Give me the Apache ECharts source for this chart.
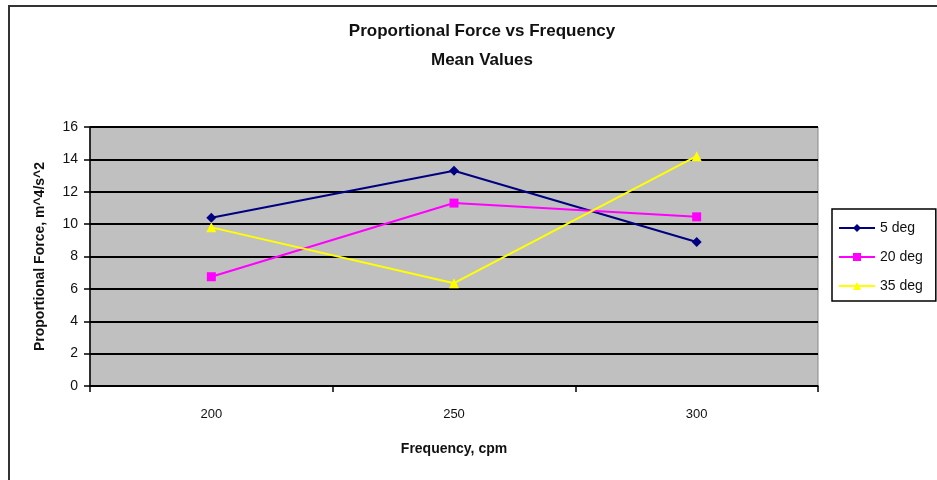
<!DOCTYPE html>
<html>
<head>
<meta charset="utf-8">
<script src="https://cdn.jsdelivr.net/npm/echarts@6/dist/echarts.min.js"></script>
<style>
html,body{margin:0;padding:0;background:#fff;}
#chart{width:937px;height:480px;}
</style>
</head>
<body>
<div id="chart"></div>
<script>
var categories = ['200', '250', '300'];
var deg5 = [10.4, 13.3, 8.9];
var deg20 = [6.75, 11.3, 10.45];
var deg35 = [9.8, 6.35, 14.2];
var seriesNames = ['5 deg', '20 deg', '35 deg'];

var FONT = '"Liberation Sans", Arial, sans-serif';
var chart = echarts.init(document.getElementById('chart'));
chart.setOption({
  backgroundColor: '#fff',
  animation: false,
  title: {
    text: 'Proportional Force vs Frequency\nMean Values',
    left: 477, top: 12, textAlign: 'center',
    textStyle: { fontFamily: FONT, fontSize: 17, fontWeight: 'bold', color: '#111', lineHeight: 29 }
  },
  legend: {
    orient: 'vertical',
    left: 832, top: 209,
    padding: [12, 13, 8, 6],
    itemGap: 15,
    itemWidth: 36, itemHeight: 10,
    borderColor: '#000', borderWidth: 1.5,
    backgroundColor: '#fff',
    textStyle: { fontFamily: FONT, fontSize: 14, color: '#111' },
    data: seriesNames
  },
  grid: { left: 90, right: 119, top: 127, bottom: 94, containLabel: false,
          show: true, backgroundColor: '#c0c0c0', borderColor: '#888', borderWidth: 1 },
  xAxis: {
    type: 'category', data: categories, boundaryGap: true,
    name: 'Frequency, cpm', nameLocation: 'middle', nameGap: 56,
    nameTextStyle: { fontFamily: FONT, fontSize: 14, fontWeight: 'bold', color: '#111' },
    axisLine: { lineStyle: { color: '#000', width: 1.5 } },
    axisTick: { show: true, alignWithLabel: false, length: 6, lineStyle: { color: '#000', width: 1.5 } },
    axisLabel: { fontFamily: FONT, fontSize: 13, color: '#111', margin: 22 }
  },
  yAxis: {
    type: 'value', min: 0, max: 16, interval: 2,
    name: 'Proportional Force, m^4/s^2', nameLocation: 'middle', nameGap: 43, nameRotate: 90,
    nameTextStyle: { fontFamily: FONT, fontSize: 14, fontWeight: 'bold', color: '#111' },
    axisLine: { show: true, lineStyle: { color: '#000', width: 1.5 } },
    axisTick: { show: true, length: 6, lineStyle: { color: '#000', width: 1.5 } },
    axisLabel: { fontFamily: FONT, fontSize: 14, color: '#111', margin: 12 },
    splitLine: { show: true, lineStyle: { color: '#000', width: 2 } }
  },
  series: [
    { name: seriesNames[0], type: 'line', data: deg5, symbol: 'diamond', symbolSize: 10,
      itemStyle: { color: '#000080' }, lineStyle: { color: '#000080', width: 2 } },
    { name: seriesNames[1], type: 'line', data: deg20, symbol: 'rect', symbolSize: 9,
      itemStyle: { color: '#ff00ff' }, lineStyle: { color: '#ff00ff', width: 2 } },
    { name: seriesNames[2], type: 'line', data: deg35, symbol: 'triangle', symbolSize: 10,
      itemStyle: { color: '#ffff00' }, lineStyle: { color: '#ffff00', width: 2 } }
  ],
  graphic: [
    { type: 'line', shape: { x1: 8, y1: 6, x2: 937, y2: 6 }, style: { stroke: '#333', lineWidth: 2 } },
    { type: 'line', shape: { x1: 9, y1: 6, x2: 9, y2: 480 }, style: { stroke: '#333', lineWidth: 2 } }
  ]
});
</script>
</body>
</html>
